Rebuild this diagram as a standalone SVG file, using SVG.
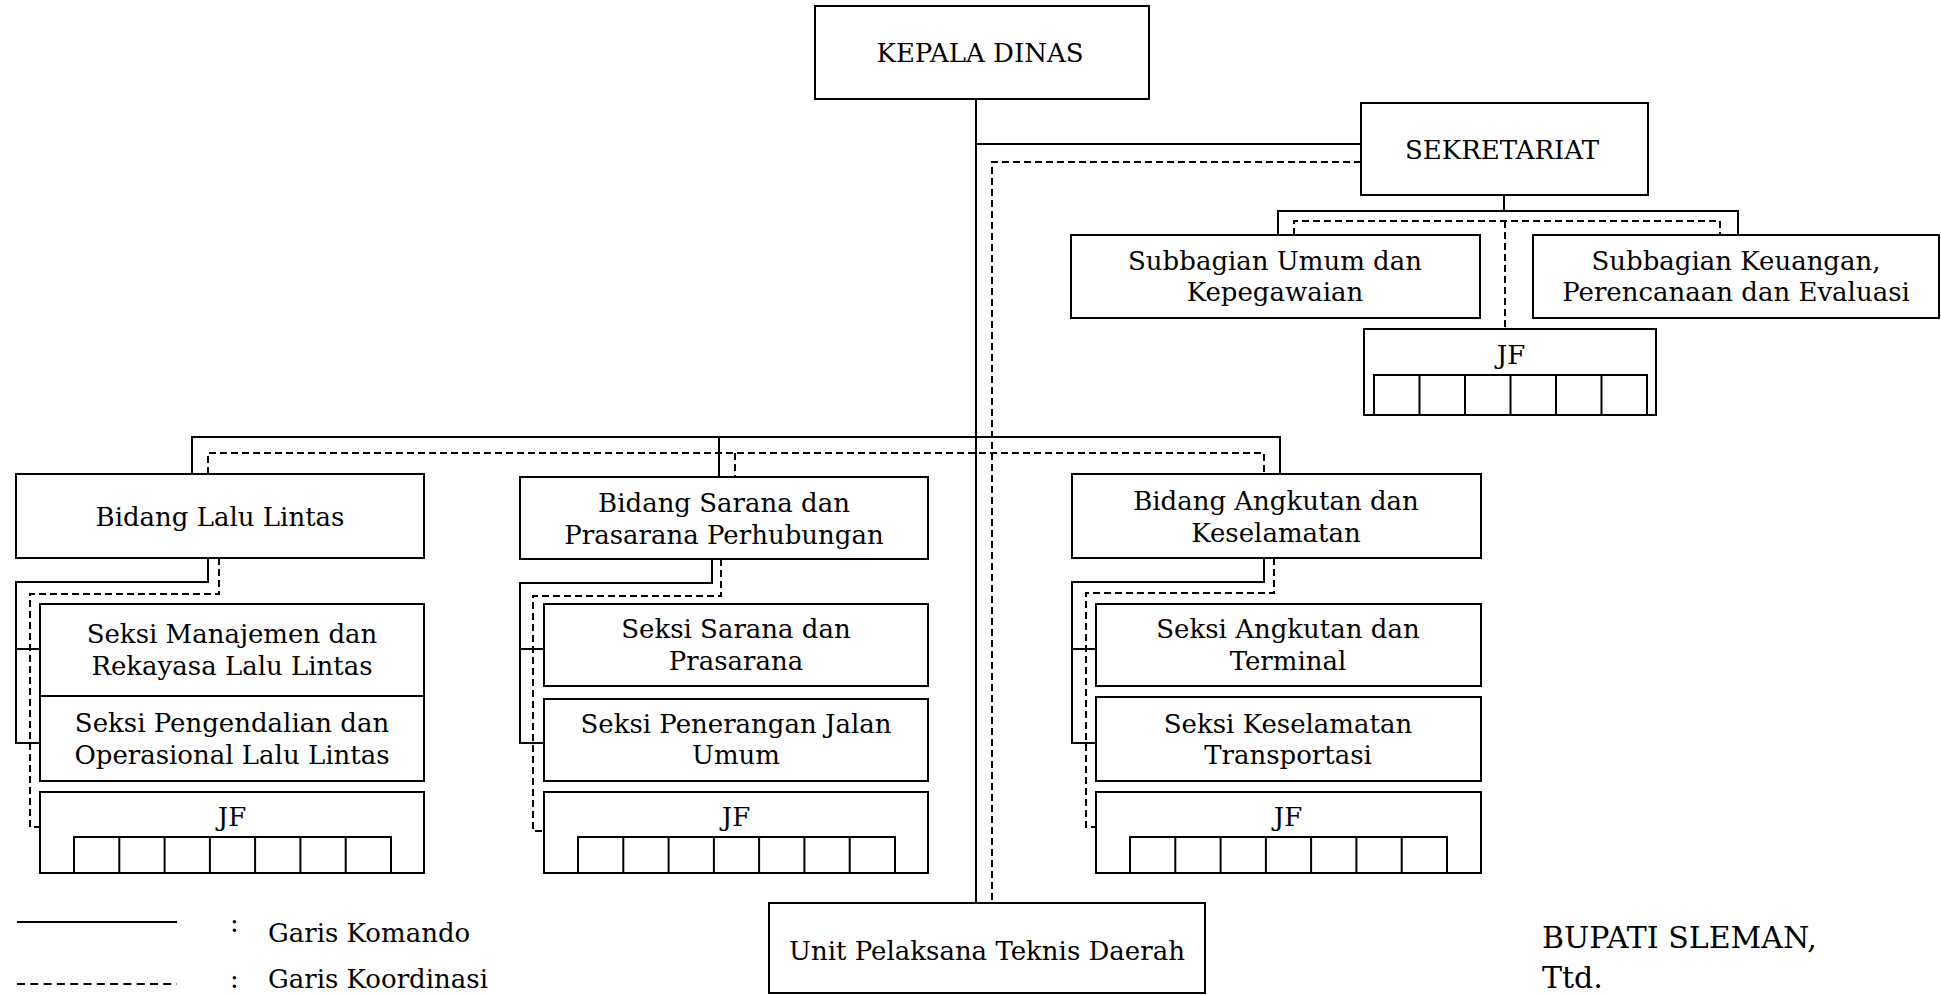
<svg xmlns="http://www.w3.org/2000/svg" width="1941" height="995" viewBox="0 0 1941 995">
<style>
.box{fill:#fff;stroke:#000;stroke-width:2}
.cell{fill:none;stroke:#000;stroke-width:2}
.cmd{fill:none;stroke:#000;stroke-width:2}
.crd{fill:none;stroke:#000;stroke-width:2;stroke-dasharray:7,4}
text{font-family:"DejaVu Serif","Liberation Serif",serif;font-size:26px;fill:#000}
.c{text-anchor:middle}
.lg{font-size:26px}
.big{font-size:30px}
</style>
<rect width="1941" height="995" fill="#fff"/>
<g id="connectors">
  <polyline class="cmd" points="976,99 976,903"/>
  <polyline class="cmd" points="976,144 1361,144"/>
  <polyline class="crd" points="1361,162 992,162 992,903"/>
  <polyline class="cmd" points="1504,195 1504,211"/>
  <polyline class="cmd" points="1278,235 1278,211 1738,211 1738,235"/>
  <polyline class="crd" points="1294,235 1294,221 1720,221 1720,235"/>
  <polyline class="crd" points="1505,221 1505,329"/>
  <polyline class="cmd" points="192,474 192,437 1280,437 1280,474"/>
  <polyline class="cmd" points="719,437 719,477"/>
  <polyline class="crd" points="208,474 208,453 1264,453 1264,474"/>
  <polyline class="crd" points="735,453 735,477"/>
  <polyline class="cmd" points="208,558 208,582 16,582 16,743 40,743"/>
  <polyline class="cmd" points="16,649 40,649"/>
  <polyline class="crd" points="219,558 219,594 30,594 30,827 40,827"/>
  <polyline class="cmd" points="712,559 712,583 520,583 520,743 544,743"/>
  <polyline class="cmd" points="520,649 544,649"/>
  <polyline class="crd" points="721,559 721,596 533,596 533,831 544,831"/>
  <polyline class="cmd" points="1264,558 1264,582 1072,582 1072,743 1096,743"/>
  <polyline class="cmd" points="1072,649 1096,649"/>
  <polyline class="crd" points="1274,558 1274,593 1086,593 1086,827 1096,827"/>
</g>
<g id="kepala-dinas">
  <rect class="box" x="815" y="6" width="334" height="93"/>
  <text class="c" x="980" y="62">KEPALA DINAS</text>
</g>
<g id="sekretariat">
  <rect class="box" x="1361" y="103" width="287" height="92"/>
  <text class="c" x="1502" y="159">SEKRETARIAT</text>
</g>
<g id="subbagian-umum">
  <rect class="box" x="1071" y="235" width="409" height="83"/>
  <text class="c" x="1275" y="270">Subbagian Umum dan</text>
  <text class="c" x="1275" y="301">Kepegawaian</text>
</g>
<g id="subbagian-keuangan">
  <rect class="box" x="1533" y="235" width="406" height="83"/>
  <text class="c" x="1736" y="270">Subbagian Keuangan,</text>
  <text class="c" x="1736" y="301">Perencanaan dan Evaluasi</text>
</g>
<g id="jf-sekretariat">
  <rect class="box" x="1364" y="329" width="292" height="86"/>
  <text class="c" x="1511" y="364">JF</text>
  <path class="cell" d="M1374,415 V375 H1647 V415 M1419.5,375 V415 M1465,375 V415 M1510.5,375 V415 M1556,375 V415 M1601.5,375 V415"/>
</g>
<g id="bidang-lalu-lintas">
  <rect class="box" x="16" y="474" width="408" height="84"/>
  <text class="c" x="220" y="526">Bidang Lalu Lintas</text>
</g>
<g id="seksi-manajemen">
  <rect class="box" x="40" y="604" width="384" height="92"/>
  <text class="c" x="232" y="643">Seksi Manajemen dan</text>
  <text class="c" x="232" y="675">Rekayasa Lalu Lintas</text>
</g>
<g id="seksi-pengendalian">
  <rect class="box" x="40" y="696" width="384" height="85"/>
  <text class="c" x="232" y="732">Seksi Pengendalian dan</text>
  <text class="c" x="232" y="764">Operasional Lalu Lintas</text>
</g>
<g id="jf-lalu-lintas">
  <rect class="box" x="40" y="792" width="384" height="81"/>
  <text class="c" x="232" y="826">JF</text>
  <path class="cell" d="M74,873 V837 H391 V873 M119.3,837 V873 M164.6,837 V873 M209.9,837 V873 M255.1,837 V873 M300.4,837 V873 M345.7,837 V873"/>
</g>
<g id="bidang-sarana">
  <rect class="box" x="520" y="477" width="408" height="82"/>
  <text class="c" x="724" y="512">Bidang Sarana dan</text>
  <text class="c" x="724" y="544">Prasarana Perhubungan</text>
</g>
<g id="seksi-sarana">
  <rect class="box" x="544" y="604" width="384" height="82"/>
  <text class="c" x="736" y="638">Seksi Sarana dan</text>
  <text class="c" x="736" y="670">Prasarana</text>
</g>
<g id="seksi-penerangan">
  <rect class="box" x="544" y="699" width="384" height="82"/>
  <text class="c" x="736" y="733">Seksi Penerangan Jalan</text>
  <text class="c" x="736" y="764">Umum</text>
</g>
<g id="jf-sarana">
  <rect class="box" x="544" y="792" width="384" height="81"/>
  <text class="c" x="736" y="826">JF</text>
  <path class="cell" d="M578,873 V837 H895 V873 M623.3,837 V873 M668.6,837 V873 M713.9,837 V873 M759.1,837 V873 M804.4,837 V873 M849.7,837 V873"/>
</g>
<g id="bidang-angkutan">
  <rect class="box" x="1072" y="474" width="409" height="84"/>
  <text class="c" x="1276" y="510">Bidang Angkutan dan</text>
  <text class="c" x="1276" y="542">Keselamatan</text>
</g>
<g id="seksi-angkutan">
  <rect class="box" x="1096" y="604" width="385" height="82"/>
  <text class="c" x="1288" y="638">Seksi Angkutan dan</text>
  <text class="c" x="1288" y="670">Terminal</text>
</g>
<g id="seksi-keselamatan">
  <rect class="box" x="1096" y="697" width="385" height="84"/>
  <text class="c" x="1288" y="733">Seksi Keselamatan</text>
  <text class="c" x="1288" y="764">Transportasi</text>
</g>
<g id="jf-angkutan">
  <rect class="box" x="1096" y="792" width="385" height="81"/>
  <text class="c" x="1288" y="826">JF</text>
  <path class="cell" d="M1130,873 V837 H1447 V873 M1175.3,837 V873 M1220.6,837 V873 M1265.9,837 V873 M1311.1,837 V873 M1356.4,837 V873 M1401.7,837 V873"/>
</g>
<g id="upt">
  <rect class="box" x="769" y="903" width="436" height="90"/>
  <text class="c" x="987" y="960">Unit Pelaksana Teknis Daerah</text>
</g>
<g id="legend">
  <line class="cmd" x1="17" y1="922" x2="177" y2="922"/>
  <text class="lg" x="230" y="932">:</text>
  <text class="lg" x="268" y="942">Garis Komando</text>
  <line class="crd" x1="17" y1="984" x2="177" y2="984" style="stroke-dasharray:8,5.3"/>
  <text class="lg" x="230" y="988">:</text>
  <text class="lg" x="268" y="988">Garis Koordinasi</text>
</g>
<g id="signature">
  <text class="big" x="1542" y="948">BUPATI SLEMAN,</text>
  <text class="big" x="1542" y="988">Ttd.</text>
</g>
</svg>
